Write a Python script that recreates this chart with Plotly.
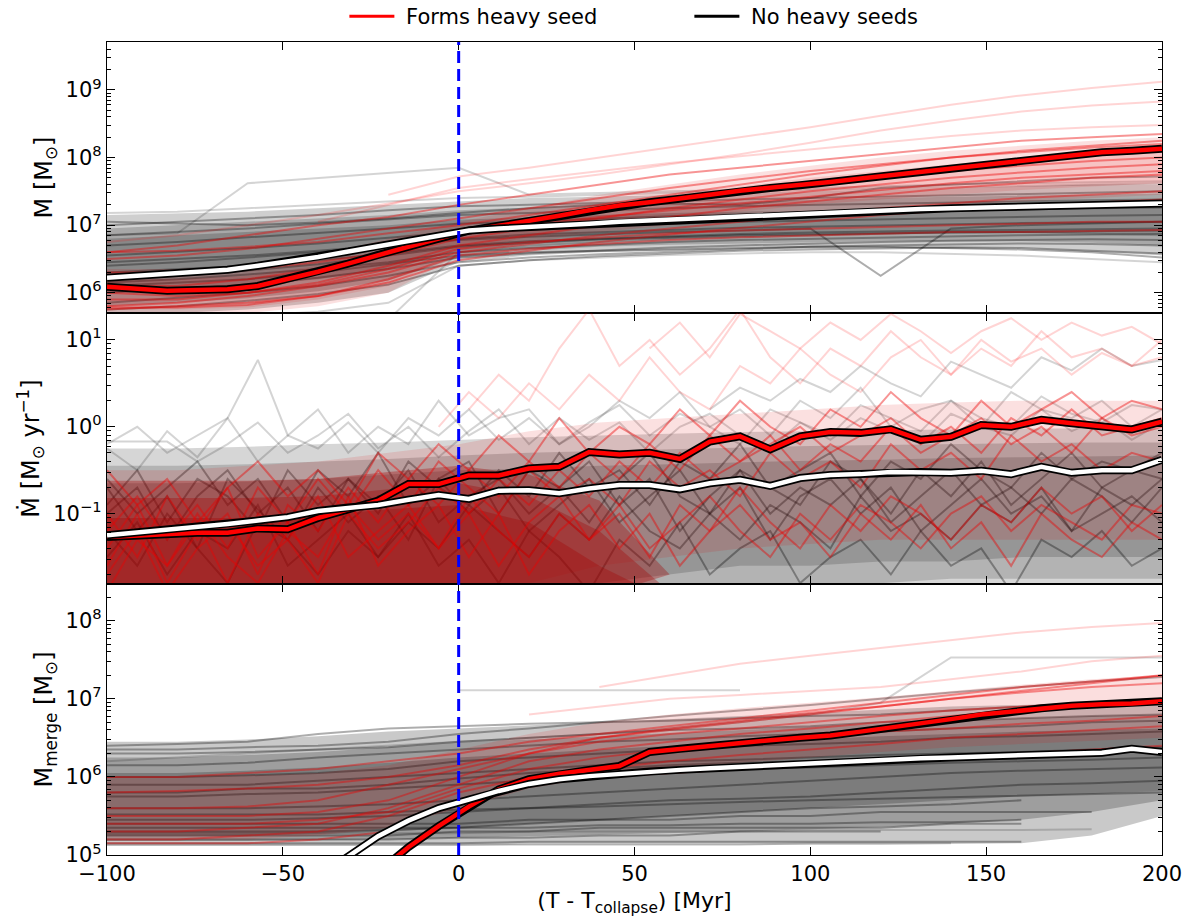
import numpy as np
import plotly.graph_objects as go
from plotly.subplots import make_subplots

# ---------------------------------------------------------------------------
# Data (stored as log10)
# ---------------------------------------------------------------------------
T_COLLAPSE = 0

# snapshot times (Myr, relative to collapse) used by the medians and the Mdot tracks
t_fine = [-100, -91.4, -82.9, -74.3, -65.7, -57.1, -48.6, -40, -31.4, -22.9, -14.3, -5.7,
          2.9, 11.4, 20, 28.6, 37.1, 45.7, 54.3, 62.9, 71.4, 80, 88.6, 97.1,
          105.7, 114.3, 122.9, 131.4, 140, 148.6, 157.1, 165.7, 174.3, 182.9, 191.4, 200]
# coarser sampling for the (smooth) mass tracks
t_coarse = [-100, -80, -60, -40, -20, 0, 20, 40, 60, 80, 100, 120, 140, 160, 180, 200]
t_red_core = [-100, -80, -60, -40, -20, 0, 20, 40, 60]

# --- medians -------------------------------------------------------------
med_M_heavy = [6.09, 6.06, 6.03, 6.04, 6.05, 6.10, 6.20, 6.31, 6.43, 6.56, 6.68, 6.80,
               6.92, 6.99, 7.06, 7.14, 7.22, 7.29, 7.34, 7.39, 7.45, 7.51, 7.55, 7.59,
               7.64, 7.69, 7.74, 7.79, 7.84, 7.89, 7.94, 7.99, 8.03, 8.08, 8.10, 8.13]
med_M_none = [6.22, 6.25, 6.28, 6.30, 6.34, 6.40, 6.46, 6.53, 6.61, 6.69, 6.77, 6.85,
              6.92, 6.95, 6.97, 6.99, 7.02, 7.05, 7.07, 7.09, 7.11, 7.13, 7.15, 7.17,
              7.19, 7.21, 7.23, 7.24, 7.25, 7.26, 7.27, 7.28, 7.29, 7.30, 7.31, 7.32]

med_Mdot_heavy = [-1.27, -1.25, -1.23, -1.22, -1.22, -1.17, -1.18, -1.05, -0.95, -0.85, -0.66, -0.66,
                  -0.56, -0.56, -0.48, -0.46, -0.29, -0.32, -0.30, -0.37, -0.17, -0.11, -0.26, -0.11,
                  -0.06, -0.07, -0.03, -0.15, -0.115, 0.02, 0.00, 0.08, 0.04, 0.00, -0.03, 0.06]
med_Mdot_none = [-1.25, -1.22, -1.19, -1.16, -1.12, -1.08, -1.04, -0.97, -0.93, -0.90, -0.84, -0.785,
                 -0.83, -0.735, -0.73, -0.765, -0.71, -0.67, -0.67, -0.72, -0.65, -0.61, -0.68, -0.59,
                 -0.555, -0.545, -0.52, -0.52, -0.53, -0.505, -0.545, -0.46, -0.53, -0.50, -0.50, -0.38]

med_Mm_heavy = [None, None, None, None, None, None, None, None, None, 4.78, 5.10, 5.37,
                5.62, 5.84, 5.97, 6.04, 6.09, 6.14, 6.32, 6.36, 6.40, 6.44, 6.47, 6.50,
                6.53, 6.58, 6.63, 6.69, 6.74, 6.80, 6.84, 6.88, 6.91, 6.93, 6.94, 6.97]
med_Mm_none = [None, None, None, None, None, None, None, 4.72, 4.99, 5.24, 5.44, 5.60,
               5.71, 5.82, 5.91, 5.97, 6.01, 6.04, 6.07, 6.09, 6.11, 6.13, 6.15, 6.17,
               6.19, 6.21, 6.23, 6.24, 6.25, 6.26, 6.27, 6.28, 6.29, 6.31, 6.36, 6.32]

# --- panel 1: halo mass tracks (t_coarse) ---------------------------------
M_none_tracks = [
    [7.00, 7.05, 7.10, 7.15, 7.22, 7.28, 7.30, 7.33, 7.36, 7.38, 7.40, 7.42, 7.44, 7.46, 7.48, 7.50],
    [6.85, 6.90, 6.95, 7.02, 7.08, 7.15, 7.18, 7.22, 7.25, 7.28, 7.30, 7.32, 7.34, 7.36, 7.37, 7.38],
    [6.70, 6.75, 6.82, 6.88, 6.95, 7.02, 7.06, 7.10, 7.13, 7.16, 7.18, 7.20, 7.22, 7.24, 7.25, 7.26],
    [6.55, 6.60, 6.66, 6.73, 6.82, 6.90, 6.95, 6.99, 7.02, 7.05, 7.07, 7.09, 7.11, 7.13, 7.14, 7.15],
    [6.40, 6.45, 6.52, 6.60, 6.70, 6.80, 6.86, 6.90, 6.93, 6.96, 6.98, 7.00, 7.02, 7.03, 7.04, 7.05],
    [6.30, 6.35, 6.40, 6.48, 6.58, 6.70, 6.76, 6.80, 6.84, 6.87, 6.89, 6.91, 6.92, 6.93, 6.94, 6.95],
    [6.15, 6.20, 6.27, 6.35, 6.45, 6.60, 6.66, 6.71, 6.75, 6.78, 6.80, 6.82, 6.84, 6.85, 6.86, 6.87],
    [6.00, 6.05, 6.12, 6.22, 6.35, 6.52, 6.58, 6.63, 6.67, 6.70, 6.73, 6.75, 6.77, 6.78, 6.79, 6.78],
    [5.85, 5.92, 6.00, 6.10, 6.25, 6.45, 6.52, 6.57, 6.61, 6.65, 6.68, 6.70, 6.72, 6.73, 6.72, 6.70],
    [7.05, 7.02, 7.00, 7.04, 7.10, 7.18, 7.25, 7.30, 7.32, 7.30, 7.40, 7.55, 7.60, 7.65, 7.70, 7.72],
    [6.45, 6.50, 6.55, 6.62, 6.70, 6.78, 6.83, 6.87, 6.90, 6.92, 6.95, 6.25, 6.95, 7.00, 7.02, 7.05],
    [6.10, 6.15, 6.20, 6.30, 6.42, 6.55, 6.60, 6.62, 6.64, 6.66, 6.68, 6.68, 6.66, 6.64, 6.60, 6.52],
    [6.25, 6.28, 6.33, 6.42, 6.55, 6.68, 6.74, 6.79, 6.82, 6.85, 6.86, 6.88, 6.89, 6.90, 6.91, 6.92],
    [5.75, 5.80, 5.88, 5.98, 6.12, 6.40, 6.48, 6.54, 6.58, 6.62, 6.64, 6.66, 6.67, 6.66, 6.62, 6.58],
]
M_none_faint = [
    [7.18, 7.20, 7.25, 7.30, 7.35, 7.40, 7.42, 7.45, 7.48, 7.50, 7.52, 7.54, 7.56, 7.58, 7.60, 7.62],
    [6.85, 6.88, 7.62, 7.70, 7.78, 7.85, 7.45, 7.48, 7.50, 7.52, 7.55, 7.58, 7.60, 7.62, 7.64, 7.65],
    [5.30, 5.30, 5.40, 5.50, 5.60, 6.60, 6.70, 6.75, 6.80, 6.82, 6.85, 6.87, 6.90, 6.90, 6.88, 6.85],
    [5.60, 5.62, 5.66, 5.72, 5.85, 6.40, 6.48, 6.52, 6.56, 6.58, 6.60, 6.60, 6.58, 6.55, 6.50, 6.45],
]
M_heavy_tracks = [
    [6.60, 6.70, 6.85, 7.00, 7.12, 7.30, 7.45, 7.60, 7.75, 7.85, 7.95, 8.05, 8.15, 8.25, 8.30, 8.35],
    [6.50, 6.55, 6.65, 6.80, 6.95, 7.10, 7.25, 7.40, 7.55, 7.68, 7.80, 7.90, 8.00, 8.08, 8.15, 8.20],
    [6.30, 6.30, 6.40, 6.55, 6.72, 6.90, 7.05, 7.20, 7.35, 7.48, 7.60, 7.70, 7.80, 7.88, 7.95, 8.00],
    [6.10, 6.10, 6.20, 6.35, 6.55, 6.80, 6.95, 7.10, 7.25, 7.38, 7.50, 7.60, 7.70, 7.78, 7.85, 7.90],
    [5.90, 5.90, 6.00, 6.15, 6.40, 6.70, 6.85, 7.00, 7.12, 7.25, 7.35, 7.45, 7.55, 7.62, 7.70, 7.75],
    [5.80, 5.85, 5.95, 6.10, 6.30, 6.60, 6.72, 6.85, 6.95, 7.05, 7.15, 7.25, 7.32, 7.40, 7.45, 7.50],
    [6.00, 5.95, 6.00, 6.12, 6.35, 6.65, 6.75, 6.82, 6.88, 6.92, 6.95, 6.97, 7.00, 7.02, 7.05, 7.05],
    [5.75, 5.80, 5.85, 5.95, 6.20, 6.55, 6.65, 6.72, 6.78, 6.82, 6.85, 6.88, 6.90, 6.90, 6.92, 6.93],
    [6.60, 6.62, 6.68, 6.75, 6.88, 7.00, 7.15, 7.30, 7.45, 7.60, 7.75, 7.88, 8.00, 8.10, 8.18, 8.25],
    [6.25, 6.30, 6.35, 6.45, 6.60, 6.85, 7.00, 7.12, 7.22, 7.32, 7.42, 7.52, 7.62, 7.70, 7.75, 7.80],
    [5.78, 5.78, 5.82, 5.95, 6.15, 6.48, 6.62, 6.75, 6.86, 6.96, 7.06, 7.15, 7.22, 7.28, 7.33, 7.38],
]
M_heavy_faint = [
    [None, None, None, None, 7.45, 7.72, 7.85, 8.00, 8.15, 8.30, 8.45, 8.62, 8.78, 8.92, 9.03, 9.12],
    [6.75, 6.85, 7.00, 7.15, 7.32, 7.50, 7.62, 7.75, 7.90, 8.05, 8.22, 8.40, 8.55, 8.68, 8.77, 8.83],
    [None, None, None, 7.05, 7.30, 7.55, 7.68, 7.80, 7.92, 8.02, 8.12, 8.22, 8.32, 8.40, 8.45, 8.48],
]
# envelopes of the dense part of the bundles (outer -> inner)
M_none_env = [
    ([5.70, 5.70, 5.75, 5.85, 6.00, 6.45, 6.55, 6.60, 6.62, 6.65, 6.65, 6.66, 6.66, 6.66, 6.60, 6.55],
     [7.15, 7.17, 7.20, 7.25, 7.30, 7.35, 7.40, 7.42, 7.45, 7.47, 7.50, 7.52, 7.55, 7.57, 7.60, 7.60]),
    ([5.80, 5.85, 5.92, 6.02, 6.18, 6.52, 6.62, 6.68, 6.71, 6.73, 6.75, 6.76, 6.76, 6.76, 6.74, 6.70],
     [6.95, 7.00, 7.05, 7.10, 7.15, 7.22, 7.26, 7.30, 7.32, 7.35, 7.37, 7.40, 7.42, 7.44, 7.46, 7.47]),
    ([6.00, 6.05, 6.10, 6.20, 6.35, 6.62, 6.72, 6.77, 6.80, 6.83, 6.85, 6.87, 6.88, 6.88, 6.88, 6.87],
     [6.80, 6.85, 6.90, 6.95, 7.00, 7.08, 7.12, 7.15, 7.18, 7.20, 7.22, 7.24, 7.26, 7.27, 7.28, 7.29]),
]
M_heavy_env = [
    ([5.70, 5.70, 5.70, 5.80, 6.00, 6.55, 6.75, 6.90, 7.00, 7.10, 7.18, 7.25, 7.30, 7.35, 7.40, 7.45],
     [6.35, 6.35, 6.40, 6.55, 6.80, 7.05, 7.25, 7.45, 7.60, 7.75, 7.88, 8.00, 8.10, 8.18, 8.25, 8.30]),
    ([5.75, 5.75, 5.78, 5.90, 6.10, 6.62, 6.82, 6.98, 7.10, 7.20, 7.30, 7.38, 7.45, 7.52, 7.57, 7.62],
     [6.20, 6.20, 6.25, 6.40, 6.65, 6.95, 7.12, 7.30, 7.45, 7.58, 7.70, 7.80, 7.90, 7.98, 8.05, 8.10]),
]

# --- panel 2: accretion-rate tracks (t_fine) ------------------------------
Mdot_none_tracks = [
    [-0.90, -0.50, -1.10, -0.60, -0.80, -1.20, -0.50, -0.90, -0.60, -1.00, -0.40, -0.70,
     -0.90, -0.50, -0.80, -0.30, -0.70, -0.50, -0.90, -0.40, -0.60, -0.20, -0.70, -0.50,
     -0.30, -0.80, -0.40, -0.60, -0.20, -0.50, -0.70, -0.30, -0.60, -0.40, -0.50, -0.30],
    [-1.50, -1.10, -1.70, -1.20, -1.40, -0.90, -1.60, -1.30, -1.00, -1.50, -1.10, -1.40,
     -0.90, -1.20, -1.50, -1.00, -1.30, -0.80, -1.20, -1.40, -1.00, -1.30, -0.90, -1.10,
     -1.40, -0.80, -1.20, -1.00, -1.30, -0.90, -1.10, -0.70, -1.20, -1.00, -0.80, -1.10],
    [-0.60, -1.00, -0.70, -0.40, -0.90, -0.60, -1.10, -0.50, -0.80, -0.30, -0.90, -0.60,
     -0.40, -1.00, -0.50, -0.70, -1.10, -0.60, -0.30, -0.80, -1.00, -0.50, -0.70, -0.90,
     -0.40, -0.60, -1.00, -0.50, -0.80, -0.40, -0.90, -0.60, -0.30, -0.70, -0.50, -0.60],
    [-1.20, -1.60, -1.00, -1.40, -1.80, -1.10, -1.30, -1.70, -1.20, -1.50, -1.00, -1.60,
     -1.30, -1.80, -1.20, -1.50, -1.90, -1.30, -1.60, -1.10, -1.70, -1.40, -1.20, -1.80,
     -1.50, -1.30, -1.70, -1.20, -1.60, -1.40, -1.90, -1.30, -1.50, -1.20, -1.60, -1.40],
    [-1.00, -0.70, -1.30, -0.80, -0.50, -1.00, -0.70, -1.20, -0.60, -0.90, -0.50, -1.10,
     -0.80, -0.60, -1.00, -0.70, -0.40, -0.90, -0.60, -1.20, -0.80, -0.50, -1.00, -0.70,
     -0.90, -0.60, -1.10, -0.80, -0.50, -0.90, -0.70, -1.00, -0.60, -0.80, -1.10, -0.70],
    [-0.70, -1.20, -0.80, -1.40, -0.60, -0.95, -1.30, -0.70, -1.10, -0.80, -1.30, -0.60,
     -1.00, -0.70, -1.20, -0.90, -0.60, -1.10, -0.80, -0.50, -1.00, -0.70, -1.30, -0.80,
     -0.60, -1.00, -0.70, -1.20, -0.90, -0.60, -1.00, -0.80, -1.20, -0.70, -0.90, -0.60],
]
Mdot_none_faint = [
    [-0.25, -0.50, -0.05, -0.35, 0.10, -0.40, -0.10, 0.20, -0.30, 0.00, -0.20, 0.30,
     -0.10, 0.10, 0.20, -0.20, 0.00, 0.30, 0.10, 0.40, 0.00, 0.20, -0.10, 0.30,
     0.10, 0.45, 0.00, 0.20, 0.30, 0.00, 0.40, 0.20, 0.10, 0.30, 0.00, 0.20],
    [-0.20, 0.00, -0.30, -0.10, 0.10, 0.77, -0.10, -0.25, 0.05, -0.30, 0.10, -0.10,
     0.20, -0.15, 0.10, -0.20, 0.05, 0.25, -0.10, 0.15, 0.00, -0.20, 0.20, 0.05,
     -0.10, 0.25, 0.10, -0.05, 0.30, 0.10, 0.00, 0.35, 0.15, 0.05, 0.25, 0.20],
    [None, None, None, None, None, None, None, None, None, None, None, None,
     None, None, None, None, None, None, None, None, 0.20, 0.45, 0.30, 0.55,
     0.40, 0.70, 0.50, 0.35, 0.75, 0.60, 0.45, 0.80, 0.65, 0.90, 0.70, 0.77],
    [-0.17, -0.17, -0.17, -0.40, -0.20, 0.05, -0.30, -0.10, 0.15, -0.25, 0.00, -0.35,
     -0.05, 0.20, -0.20, 0.10, -0.15, 0.05, -0.30, 0.00, 0.15, -0.10, -0.25, 0.05,
     -0.15, 0.10, -0.05, -0.20, 0.15, 0.00, -0.10, 0.20, -0.05, 0.10, -0.15, 0.05],
]
Mdot_heavy_tracks = [
    [-1.40, -0.90, -1.60, -1.10, -1.80, -1.00, -1.30, -0.80, -1.50, -1.20, -0.90, -1.40,
     -1.00, -1.60, -1.10, -0.80, -1.30, -1.00, -1.50, -0.90, -1.20, -0.70, -1.10, -1.40,
     -0.90, -1.20, -0.80, -1.00, -1.30, -0.90, -1.10, -0.70, -1.00, -0.80, -1.20, -0.90],
    [-1.00, -1.50, -0.80, -1.30, -1.00, -1.70, -0.90, -1.20, -0.70, -1.10, -0.60, -0.90,
     -0.50, -0.80, -0.40, -0.70, -0.30, -0.60, -0.20, -0.50, -0.10, -0.40, -0.20, 0.00,
     -0.30, -0.10, 0.10, -0.20, 0.00, -0.30, 0.10, -0.10, 0.20, -0.10, 0.00, 0.10],
    [-1.70, -1.20, -1.90, -1.40, -1.10, -1.60, -1.30, -1.80, -1.00, -1.40, -1.10, -0.70,
     -1.00, -0.60, -0.90, -0.50, -0.80, -0.40, -0.70, -0.30, -0.60, -0.40, -0.10, -0.50,
     -0.20, -0.40, 0.00, -0.30, -0.10, 0.10, -0.20, 0.00, -0.30, 0.10, -0.10, 0.00],
    [-0.50, -0.90, -0.60, -1.10, -0.70, -0.40, -0.80, -0.50, -0.90, -0.30, -0.60, -0.20,
     -0.50, -0.10, -0.40, 0.10, -0.30, 0.00, -0.20, 0.20, -0.10, 0.30, 0.00, -0.20,
     0.20, 0.00, 0.40, 0.10, -0.10, 0.30, 0.00, 0.20, 0.40, 0.10, 0.30, 0.20],
    [-1.20, -0.80, -1.30, -0.90, -1.40, -0.70, -1.10, -0.60, -1.00, -0.50, -0.90, -0.40,
     -0.70, -1.00, -0.50, -0.80, -0.60, -0.90, -0.40, -0.70, -0.50, -0.80, -0.30, -0.60,
     -0.40, -0.70, -0.20, -0.50, -0.30, -0.60, -0.10, -0.40, -0.20, -0.50, -0.30, -0.40],
    [-1.90, -1.30, -1.60, -1.00, -1.50, -1.80, -1.20, -1.50, -0.90, -1.30, -1.00, -1.40,
     -0.80, -1.20, -1.50, -1.00, -1.30, -0.90, -1.40, -1.10, -0.80, -1.20, -1.50, -1.00,
     -1.30, -0.90, -1.10, -1.40, -1.00, -0.80, -1.20, -0.90, -1.10, -1.30, -0.90, -1.00],
    [-1.60, -1.00, -1.80, -1.20, -0.70, -1.50, -1.10, -1.70, -0.80, -1.60, -1.20, -0.90,
     -1.50, -1.00, -1.70, -1.20, -0.90, -1.40, -1.00, -1.60, -1.20, -0.90, -1.30, -1.10,
     -1.50, -1.00, -1.30, -0.90, -1.40, -1.10, -1.60, -1.00, -1.30, -1.50, -1.10, -1.30],
]
Mdot_heavy_faint = [
    [None, None, None, None, None, None, None, None, None, None, None, 0.00,
     0.40, 0.10, 0.50, 0.20, 0.60, 0.30, 0.80, 0.40, 0.20, 0.70, 0.50, 0.90,
     0.60, 0.40, 0.80, 1.00, 0.60, 0.90, 0.70, 1.10, 0.80, 0.90, 0.70, 1.00],
    [None, None, None, None, None, None, None, None, None, None, None, None,
     None, None, None, None, None, None, 0.90, 1.20, 0.80, 1.30, 1.10, 0.90,
     1.20, 1.00, 1.30, 1.10, 0.85, 1.10, 1.25, 1.00, 1.20, 1.05, 1.15, 0.95],
    [None, None, None, None, None, None, None, None, None, None, None, None,
     0.20, 0.60, 0.30, 0.90, 1.35, 0.70, 1.00, 0.60, 0.90, 1.35, 0.80, 0.50,
     0.90, 0.70, 1.10, 0.80, 0.60, 1.00, 0.75, 0.90, 0.60, 0.85, 0.70, 0.80],
]
Mdot_none_env = [
    ([-2.00] * 16,
     [-0.25, -0.25, -0.23, -0.20, -0.18, -0.15, -0.12, -0.10, -0.08, -0.06, -0.05, -0.04, -0.03, -0.02, -0.02, -0.02]),
    ([-2.00, -2.00, -2.00, -2.00, -2.00, -2.00, -2.00, -1.95, -1.90, -1.85, -1.80, -1.80, -1.75, -1.75, -1.75, -1.75],
     [-0.45, -0.45, -0.43, -0.40, -0.37, -0.33, -0.30, -0.28, -0.26, -0.24, -0.22, -0.21, -0.20, -0.19, -0.18, -0.18]),
    ([-2.00, -2.00, -2.00, -2.00, -2.00, -2.00, -1.90, -1.80, -1.70, -1.60, -1.60, -1.55, -1.55, -1.50, -1.50, -1.50],
     [-0.65, -0.65, -0.63, -0.60, -0.55, -0.50, -0.48, -0.45, -0.43, -0.41, -0.39, -0.38, -0.36, -0.35, -0.34, -0.33]),
]
Mdot_heavy_env = [
    ([-2.00, -2.00, -2.00, -2.00, -2.00, -2.00, -1.80, -1.60, -1.50, -1.40, -1.35, -1.30, -1.30, -1.30, -1.30, -1.30],
     [-0.50, -0.50, -0.45, -0.40, -0.30, -0.20, -0.05, 0.05, 0.10, 0.15, 0.20, 0.25, 0.28, 0.30, 0.30, 0.30]),
]
# very dense (almost solid) part of the heavy-seed accretion bundle before collapse
Mdot_heavy_core = [
    ([-2.0, -2.0, -2.0, -2.0, -2.0, -2.0, -2.0, -1.95, -1.70],
     [-0.62, -0.62, -0.62, -0.60, -0.52, -0.45, -0.55, -0.85, -1.70]),
    ([-2.0, -2.0, -2.0, -2.0, -2.0, -2.0, -2.0, -2.0, -1.90],
     [-0.82, -0.82, -0.82, -0.80, -0.72, -0.65, -0.80, -1.20, -1.90]),
    ([-2.0, -2.0, -2.0, -2.0, -2.0, -2.0, -2.0, -2.0, -2.0],
     [-1.05, -1.05, -1.05, -1.02, -0.95, -0.90, -1.10, -1.60, -2.0]),
]

# --- panel 3: merger-mass tracks (t_coarse) -------------------------------
Mm_none_tracks = [
    [6.40, 6.42, 6.45, 6.55, 6.62, 6.65, 6.68, 6.70, 6.72, 6.75, 6.78, 6.80, 6.85, 6.90, 6.95, 7.00],
    [6.30, 6.30, 6.32, 6.35, 6.38, 6.45, 6.50, 6.55, 6.60, 6.62, 6.65, 6.70, 6.72, 6.75, 6.78, 6.80],
    [6.00, 6.00, 6.02, 6.05, 6.10, 6.20, 6.25, 6.30, 6.35, 6.40, 6.42, 6.45, 6.50, 6.52, 6.55, 6.58],
    [5.90, 5.90, 5.90, 5.95, 6.00, 6.05, 6.10, 6.15, 6.20, 6.22, 6.25, 6.28, 6.30, 6.32, 6.35, 6.38],
    [5.75, 5.75, 5.78, 5.80, 5.85, 5.90, 5.95, 6.00, 6.05, 6.10, 6.12, 6.15, 6.18, 6.20, 6.22, 6.25],
    [5.60, 5.60, 5.60, 5.62, 5.65, 5.70, 5.75, 5.80, 5.85, 5.90, 5.95, 6.00, 6.05, 6.08, 6.10, 6.12],
    [5.45, 5.45, 5.45, 5.47, 5.50, 5.55, 5.60, 5.65, 5.70, 5.72, 5.75, 5.80, 5.85, 5.90, 5.92, 5.95],
    [5.30, 5.30, 5.30, 5.30, 5.32, 5.35, 5.40, 5.45, 5.50, 5.55, 5.60, 5.62, 5.65, 5.70, None, None],
    [5.20, 5.20, 5.20, 5.20, 5.20, 5.22, 5.22, 5.25, 5.25, 5.30, 5.30, 5.30, None, None, None, None],
    [5.40, 5.40, 5.40, 5.40, 5.40, 5.40, 5.45, 5.45, 5.45, 5.50, 5.50, 5.55, 5.55, 5.55, 5.55, None],
    [5.25, 5.25, 5.25, 5.25, 5.25, 5.30, 5.30, 5.35, 5.35, 5.35, 5.35, 5.35, 5.40, 5.40, None, None],
    [6.15, 6.15, 6.18, 6.25, 6.30, 6.35, 6.40, 6.45, 6.48, 6.52, 6.55, 6.58, 6.62, 6.65, 6.70, 6.72],
    [5.15, 5.15, 5.15, 5.15, 5.15, 5.15, 5.17, 5.17, 5.17, 5.17, 5.17, 5.17, 5.17, 5.17, None, None],
    [5.80, 5.80, 5.85, 5.85, 5.90, 5.98, 6.05, 6.10, 6.15, 6.18, 6.20, 6.22, 6.25, 6.30, 6.32, 6.35],
    [6.35, 6.35, 6.38, 6.40, 6.45, 6.55, 6.62, 6.70, 6.78, 6.85, 6.92, 7.00, 7.08, 7.15, 7.22, 7.28],
    [5.35, 5.35, 5.35, 5.35, 5.35, 5.35, 5.35, 5.38, 5.38, 5.40, 5.40, 5.42, 5.42, 5.45, None, None],
    [5.52, 5.52, 5.52, 5.52, 5.55, 5.58, 5.60, 5.62, 5.65, 5.68, 5.70, 5.72, 5.74, 5.76, 5.78, 5.80],
]
Mm_none_faint = [
    [None, None, None, None, None, 7.11, 7.11, 7.11, 7.11, 7.11, None, None, None, None, None, None],
    [6.20, 6.25, 6.30, 6.35, 6.40, 6.45, 6.50, 6.55, 6.62, 6.70, 6.80, 6.95, 7.53, 7.53, 7.53, 7.53],
    [5.13, 5.13, 5.13, 5.13, 5.13, 5.13, 5.13, 5.13, 5.13, 5.13, 5.15, 5.15, 5.15, None, None, None],
    [5.28, 5.28, 5.28, 5.28, 5.28, 5.28, 5.30, 5.30, 5.30, 5.30, 5.32, 5.32, 5.32, 5.32, 5.33, None],
]
Mm_heavy_tracks = [
    [5.50, 5.50, 5.50, 5.55, 5.70, 6.00, 6.30, 6.50, 6.60, 6.70, 6.80, 6.90, 7.00, 7.10, 7.20, 7.30],
    [5.30, 5.30, 5.35, 5.40, 5.60, 5.90, 6.20, 6.35, 6.45, 6.55, 6.62, 6.70, 6.78, 6.85, 6.92, 7.00],
    [6.00, 6.00, 6.05, 6.10, 6.20, 6.30, 6.45, 6.55, 6.65, 6.75, 6.85, 6.95, 7.05, 7.15, 7.22, 7.30],
    [5.20, 5.20, 5.25, 5.30, 5.50, 5.80, 6.00, 6.10, 6.20, 6.28, 6.35, 6.42, 6.50, 6.55, 6.60, 6.65],
    [5.60, 5.60, 5.62, 5.70, 5.90, 6.10, 6.30, 6.45, 6.55, 6.62, 6.70, 6.78, 6.85, 6.90, 6.95, 7.00],
    [5.40, 5.40, 5.40, 5.45, 5.55, 5.85, 6.10, 6.25, 6.35, 6.45, 6.50, 6.58, 6.62, 6.68, 6.72, 6.78],
    [5.15, 5.15, 5.15, 5.20, 5.30, 5.70, 5.90, 6.00, 6.05, 6.10, 6.15, 6.20, 6.25, 6.30, 6.35, 6.40],
    [5.80, 5.82, 5.85, 5.90, 6.00, 6.15, 6.35, 6.50, 6.62, 6.72, 6.82, 6.90, 7.00, 7.08, 7.15, 7.20],
]
Mm_heavy_faint = [
    [None, None, None, None, None, None, None, 7.15, 7.30, 7.45, 7.55, 7.65, 7.75, 7.85, 7.92, 7.97],
    [None, None, None, None, None, None, 6.80, 6.90, 7.00, 7.05, 7.10, 7.15, 7.25, 7.35, 7.48, 7.55],
]
Mm_none_env = [
    ([5.12, 5.12, 5.12, 5.12, 5.12, 5.12, 5.13, 5.13, 5.13, 5.13, 5.13, 5.13, 5.14, 5.15, 5.25, 5.50],
     [6.45, 6.45, 6.48, 6.52, 6.58, 6.62, 6.66, 6.70, 6.74, 6.78, 6.82, 6.86, 6.90, 6.92, 6.95, 6.98]),
    ([5.18, 5.18, 5.18, 5.19, 5.20, 5.22, 5.24, 5.26, 5.28, 5.30, 5.33, 5.36, 5.40, 5.45, 5.55, 5.70],
     [6.25, 6.25, 6.28, 6.32, 6.38, 6.44, 6.48, 6.52, 6.56, 6.60, 6.64, 6.68, 6.72, 6.75, 6.78, 6.80]),
    ([5.25, 5.25, 5.25, 5.27, 5.30, 5.35, 5.40, 5.45, 5.50, 5.55, 5.60, 5.65, 5.70, 5.75, 5.78, 5.82],
     [6.05, 6.05, 6.08, 6.12, 6.18, 6.25, 6.30, 6.35, 6.40, 6.44, 6.48, 6.52, 6.55, 6.58, 6.60, 6.62]),
]
Mm_heavy_env = [
    ([5.20, 5.20, 5.20, 5.25, 5.35, 5.60, 5.85, 6.00, 6.10, 6.18, 6.25, 6.32, 6.38, 6.42, 6.46, 6.50],
     [6.00, 6.00, 6.02, 6.05, 6.15, 6.35, 6.55, 6.70, 6.80, 6.88, 6.95, 7.02, 7.10, 7.18, 7.25, 7.30]),
]

# ---------------------------------------------------------------------------
FONT = "DejaVu Sans"
BLACK_LINE = "rgba(0,0,0,0.32)"
BLACK_FAINT = "rgba(0,0,0,0.17)"
RED_LINE = "rgba(235,0,0,0.42)"
RED_FAINT = "rgba(255,0,0,0.17)"


def lin(v):
    return np.power(10.0, np.array(v, dtype=float))


fig = make_subplots(rows=3, cols=1, shared_xaxes=True, vertical_spacing=0)


def add_bands(row, t, envs, color):
    for lo, hi in envs:
        fig.add_trace(go.Scatter(x=t, y=lin(lo), mode="lines", line=dict(width=0),
                                 showlegend=False, hoverinfo="skip"), row=row, col=1)
        fig.add_trace(go.Scatter(x=t, y=lin(hi), mode="lines", line=dict(width=0),
                                 fill="tonexty", fillcolor=color,
                                 showlegend=False, hoverinfo="skip"), row=row, col=1)


def add_tracks(row, t, tracks, color):
    for tr in tracks:
        fig.add_trace(go.Scatter(x=t, y=lin(tr), mode="lines", line=dict(color=color, width=2),
                                 showlegend=False, hoverinfo="skip"), row=row, col=1)


def add_median(row, vals, color):
    fig.add_trace(go.Scatter(x=t_fine, y=lin(vals), mode="lines", line=dict(color="black", width=8),
                             showlegend=False, hoverinfo="skip"), row=row, col=1)
    fig.add_trace(go.Scatter(x=t_fine, y=lin(vals), mode="lines", line=dict(color=color, width=4.5),
                             showlegend=False, hoverinfo="skip"), row=row, col=1)


# panel 1: M
add_bands(1, t_coarse, M_none_env, "rgba(0,0,0,0.19)")
add_tracks(1, t_coarse, M_none_faint, BLACK_FAINT)
add_tracks(1, t_coarse, M_none_tracks, BLACK_LINE)
add_bands(1, t_coarse, M_heavy_env, "rgba(225,0,0,0.12)")
add_tracks(1, t_coarse, M_heavy_faint, RED_FAINT)
add_tracks(1, t_coarse, M_heavy_tracks, RED_LINE)
add_median(1, med_M_heavy, "#ff0000")
add_median(1, med_M_none, "white")

# panel 2: Mdot
add_bands(2, t_coarse, Mdot_none_env, "rgba(0,0,0,0.16)")
add_tracks(2, t_fine, Mdot_none_faint, BLACK_FAINT)
add_tracks(2, t_fine, Mdot_none_tracks, BLACK_LINE)
add_bands(2, t_coarse, Mdot_heavy_env, "rgba(225,0,0,0.12)")
add_bands(2, t_red_core, Mdot_heavy_core, "rgba(165,0,0,0.32)")
add_tracks(2, t_fine, Mdot_heavy_faint, RED_FAINT)
add_tracks(2, t_fine, Mdot_heavy_tracks, RED_LINE)
add_median(2, med_Mdot_heavy, "#ff0000")
add_median(2, med_Mdot_none, "white")

# panel 3: M_merge
add_bands(3, t_coarse, Mm_none_env, "rgba(0,0,0,0.21)")
add_tracks(3, t_coarse, Mm_none_faint, BLACK_FAINT)
add_tracks(3, t_coarse, Mm_none_tracks, BLACK_LINE)
add_bands(3, t_coarse, Mm_heavy_env, "rgba(225,0,0,0.13)")
add_tracks(3, t_coarse, Mm_heavy_faint, RED_FAINT)
add_tracks(3, t_coarse, Mm_heavy_tracks, RED_LINE)
add_median(3, med_Mm_heavy, "#ff0000")
add_median(3, med_Mm_none, "white")

# legend entries (leading no-break space widens the gap after the line sample)
fig.add_trace(go.Scatter(x=[None], y=[None], mode="lines", name="\u00a0Forms heavy seed",
                         line=dict(color="#ff0000", width=3)), row=1, col=1)
fig.add_trace(go.Scatter(x=[None], y=[None], mode="lines", name="\u00a0No heavy seeds",
                         line=dict(color="black", width=3)), row=1, col=1)

# collapse time marker
fig.add_shape(type="line", xref="x", yref="paper", x0=T_COLLAPSE, x1=T_COLLAPSE, y0=0, y1=1,
              line=dict(color="blue", width=3, dash="12px,6px"), layer="above")


def minor_vals(lo_exp, hi_exp):
    return [k * 10.0 ** e for e in range(lo_exp, hi_exp) for k in range(2, 10)]


axis_common = dict(showline=True, linecolor="black", linewidth=1.3, mirror="allticks",
                   ticks="inside", ticklen=8, tickwidth=1.3, tickcolor="black",
                   showgrid=False, zeroline=False, tickfont=dict(size=21, color="black"))

for r in (1, 2, 3):
    fig.update_xaxes(range=[-100, 200], tickvals=[-100, -50, 0, 50, 100, 150, 200],
                     row=r, col=1, **axis_common)
fig.update_xaxes(title=dict(text="(T - T<sub>collapse</sub>) [Myr]", font=dict(size=22), standoff=8),
                 row=3, col=1)

yaxes = [
    (1, [5.70, 9.71], [1e6, 1e7, 1e8, 1e9], ["10<sup>6</sup>", "10<sup>7</sup>", "10<sup>8</sup>", "10<sup>9</sup>"],
     minor_vals(5, 10), "M [M<sub>⊙</sub>]"),
    (2, [-1.81, 1.31], [0.1, 1, 10], ["10<sup>−1</sup>", "10<sup>0</sup>", "10<sup>1</sup>"],
     minor_vals(-2, 2), "Ṁ [M<sub>⊙</sub> yr<sup>−1</sup>]"),
    (3, [5.0, 8.47], [1e5, 1e6, 1e7, 1e8], ["10<sup>5</sup>", "10<sup>6</sup>", "10<sup>7</sup>", "10<sup>8</sup>"],
     minor_vals(5, 9), "M<sub>merge</sub> [M<sub>⊙</sub>]"),
]
for row, rng, tv, tt, mv, title in yaxes:
    fig.update_yaxes(type="log", range=rng, tickmode="array", tickvals=tv, ticktext=tt,
                     minor=dict(tickmode="array", tickvals=mv, ticks="inside", ticklen=4,
                                tickcolor="black", showgrid=False),
                     title=dict(text=title, font=dict(size=24), standoff=6),
                     row=row, col=1, **axis_common)

fig.update_layout(
    width=1185, height=917,
    margin=dict(l=107, r=23, t=42, b=62, autoexpand=False),
    paper_bgcolor="white", plot_bgcolor="white",
    font=dict(family=FONT, size=20, color="black"),
    legend=dict(orientation="h", x=0.225, xanchor="left", y=1.006, yanchor="bottom",
                traceorder="normal", font=dict(size=21), bgcolor="rgba(0,0,0,0)",
                entrywidth=285, itemwidth=45),
)

# drop the browser's default 8px body margin so the figure fills the window
fig.write_html("out.html", config={"displayModeBar": False},
               post_script="document.body.style.margin = '0';")
